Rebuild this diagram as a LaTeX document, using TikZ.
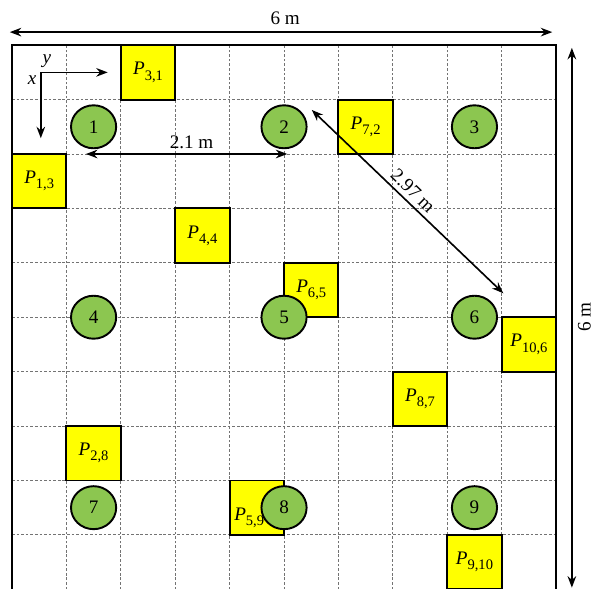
\documentclass[tikz,border=0pt]{standalone}
\usepackage{fontspec}
\setmainfont{Liberation Serif}
\usetikzlibrary{arrows.meta,shapes.geometric}
\definecolor{ledgreen}{RGB}{140,198,80}
\definecolor{tagyellow}{RGB}{255,255,0}
\newcommand\plab[2]{\textit{P}\raisebox{-2.7pt}{\fontsize{7.6}{8}\selectfont #1,#2}}
\begin{document}
\begin{tikzpicture}[x=1cm,y=1cm,
  font=\fontsize{10}{12}\selectfont,
  gridline/.style={black!55, dash pattern=on 1.4pt off 1pt, line width=0.5pt},
  frameline/.style={line width=1.15pt},
  tagbox/.style={draw, line width=1pt, fill=tagyellow, minimum size=1cm, inner sep=0pt},
  anchorled/.style={ellipse, draw, line width=1pt, fill=ledgreen, minimum width=0.83cm, minimum height=0.79cm, inner sep=0pt},
  dimarrow/.style={line width=0.85pt, {Stealth[length=6pt,width=4.5pt]}-{Stealth[length=6pt,width=4.5pt]}},
  axisarrow/.style={line width=0.85pt, -{Stealth[length=6pt,width=4.5pt]}},
  plain/.style={inner sep=0pt}]
\useasboundingbox (-0.22,0.83) rectangle (10.66,-9.985);
% grid and frame
\draw[gridline] (0,-10) grid (10,0);
\draw[frameline] (0,-10.2) -- (0,0) -- (10,0) -- (10,-10.2);
% tags
\node[tagbox] (p31) at (2.5,-0.5) {\plab31};
\node[tagbox] (p72) at (6.5,-1.5) {\plab72};
\node[tagbox] (p13) at (0.5,-2.5) {\plab13};
\node[tagbox] (p44) at (3.5,-3.5) {\plab44};
\node[tagbox] (p65) at (5.5,-4.5) {\plab65};
\node[tagbox] (p106) at (9.5,-5.5) {\plab{10}6};
\node[tagbox] (p87) at (7.5,-6.5) {\plab87};
\node[tagbox] (p28) at (1.5,-7.5) {\plab28};
\node[tagbox] (p59) at (4.5,-8.5) {};
\node[tagbox] (p910) at (8.5,-9.5) {\plab9{10}};
\node[plain] (p59lab) at (4.36,-8.68) {\plab59};
% anchors
\node[anchorled] (a1) at (1.5,-1.5) {1};
\node[anchorled] (a2) at (5,-1.5) {2};
\node[anchorled] (a3) at (8.5,-1.5) {3};
\node[anchorled] (a4) at (1.5,-5) {4};
\node[anchorled] (a5) at (5,-5) {5};
\node[anchorled] (a6) at (8.5,-5) {6};
\node[anchorled] (a7) at (1.5,-8.5) {7};
\node[anchorled] (a8) at (5,-8.5) {8};
\node[anchorled] (a9) at (8.5,-8.5) {9};
% axes
\coordinate (ax0) at (0.53,-0.5);
\coordinate (axy) at (1.76,-0.5);
\coordinate (axx) at (0.53,-1.71);
\draw[axisarrow] (ax0) -- (axy);
\draw[axisarrow] (ax0) -- (axx);
\node[plain] (ylab) at (0.64,-0.30) {\textit{y}};
\node[plain] (xlab) at (0.37,-0.65) {\textit{x}};
% dimensions
\coordinate (topL) at (-0.04,0.24);
\coordinate (topR) at (9.93,0.24);
\draw[dimarrow] (topL) -- (topR);
\node[plain] (wlab) at (5.02,0.5) {6 m};
\coordinate (rT) at (10.29,-0.05);
\coordinate (rB) at (10.29,-9.97);
\draw[dimarrow] (rT) -- (rB);
\node[plain, rotate=90] (hlab) at (10.52,-5.0) {6 m};
\coordinate (d1L) at (1.36,-2);
\coordinate (d1R) at (5.06,-2);
\draw[dimarrow] (d1L) -- (d1R);
\node[plain] (d1lab) at (3.30,-1.78) {2.1 m};
\coordinate (d2A) at (5.51,-1.19);
\coordinate (d2B) at (9.03,-4.56);
\draw[dimarrow] (d2A) -- (d2B);
\node[plain, rotate=-44] (d2lab) at (7.37,-2.67) {2.97 m};
\end{tikzpicture}
\end{document}
